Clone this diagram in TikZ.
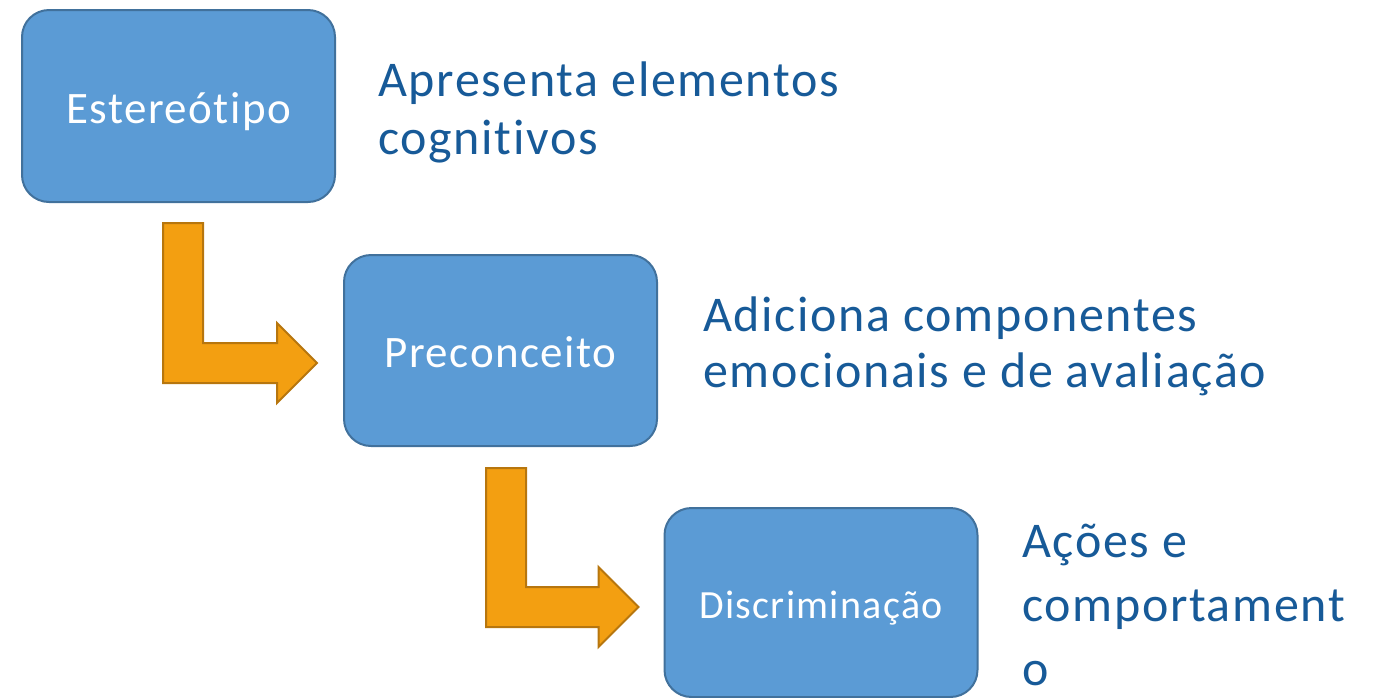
\documentclass[tikz,border=0pt]{standalone}
\usepackage{fontspec}
\setmainfont{Carlito}[Ligatures=NoCommon, LetterSpace=3.3]
\usetikzlibrary{calc}
\definecolor{boxfill}{RGB}{91,155,213}
\definecolor{boxline}{RGB}{65,113,156}
\definecolor{arrfill}{RGB}{243,159,17}
\definecolor{arrline}{RGB}{183,118,14}
\definecolor{txtblue}{RGB}{23,90,152}
\tikzset{
  stagebox/.style={draw=boxline, fill=boxfill, line width=2pt, rounded corners=27pt,
    minimum width=313pt, inner sep=0pt, text=white, align=center, text depth=0pt},
  sidetext/.style={anchor=base west, inner sep=0pt, text=txtblue},
  bentshape/.style={fill=arrfill, draw=arrline, line width=2pt, line join=miter}
}
\newcommand\bentarrow[2]{%
  \path[bentshape] let \p1=(#1), \p2=(#2) in
    (\x1,\y1) -- (\x1+40pt,\y1) -- (\x1+40pt,\y2+20pt) -- (\x2-40pt,\y2+20pt)
    -- (\x2-40pt,\y2+40pt) -- (\x2,\y2) -- (\x2-40pt,\y2-40pt) -- (\x2-40pt,\y2-20pt)
    -- (\x1,\y2-20pt) -- cycle;}
\begin{document}
\begin{tikzpicture}[x=1pt,y=-1pt]
\useasboundingbox (0,0) rectangle (1378,697);
% boxes
\node[stagebox, minimum height=192pt, text height=34pt, font=\fontsize{45}{50}\selectfont] (e) at (178.5,106) {Estereótipo};
\node[stagebox, minimum height=191pt, text height=34pt, font=\fontsize{45}{50}\selectfont] (p) at (500.5,350.5) {Preconceito};
\node[stagebox, minimum height=189pt, text height=31pt, font=\fontsize{40}{46}\selectfont] (d) at (821,602.5) {Discriminação};
% side texts
\node[sidetext] (te) at (378,96) {\parbox[t]{700pt}{\raggedright\fontsize{50}{58}\selectfont Apresenta elementos\\cognitivos}};
\node[sidetext] (tp) at (703,331) {\parbox[t]{700pt}{\raggedright\fontsize{50}{56}\selectfont Adiciona componentes\\emocionais e de avaliação}};
\node[sidetext] (td) at (1022,557) {\parbox[t]{350pt}{\raggedright\fontsize{50}{64}\selectfont Ações e\\comportament\\o}};
% bent arrows
\coordinate (a1s) at ($(e.south west)+(142,20)$);
\coordinate (a1t) at ($(p.west)+(-26,12.5)$);
\coordinate (a2s) at ($(p.south west)+(143,21)$);
\coordinate (a2t) at ($(d.west)+(-25,4.5)$);
\bentarrow{a1s}{a1t}
\bentarrow{a2s}{a2t}
\end{tikzpicture}
\end{document}
